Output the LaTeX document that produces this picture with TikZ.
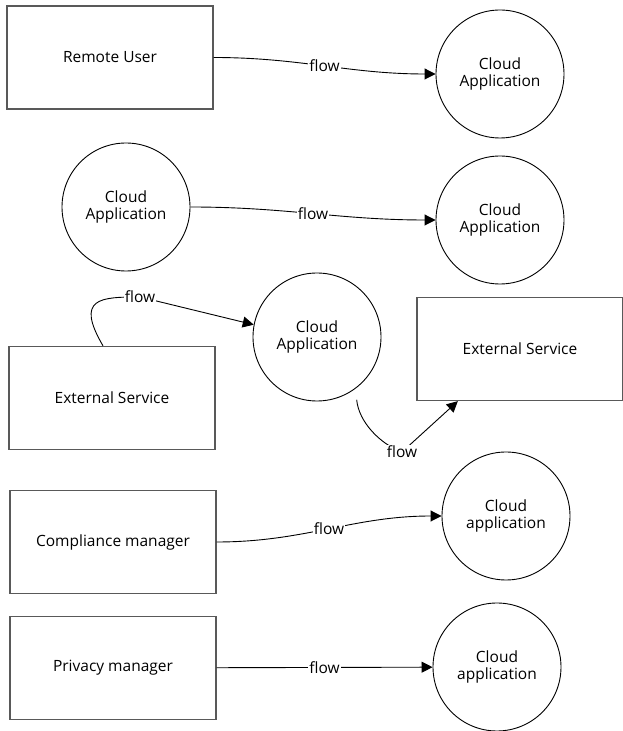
\documentclass[tikz,border=0pt]{standalone}
\usepackage{fontspec}
\setmainfont{Open Sans}
\usetikzlibrary{arrows.meta}

\begin{document}
\begin{tikzpicture}[x=1pt,y=1pt,->,>={Triangle[length=11pt,width=11pt]},line width=0.9pt,
        every node/.style={font=\fontsize{15.5}{17}\selectfont},
        ent/.style={draw=black!65,line width=1.3pt,minimum width=206pt,minimum height=103pt,inner sep=0pt},
        proc/.style={circle,draw,line width=0.9pt,minimum size=128pt,inner sep=0pt,align=center},
        flowlbl/.style={fill=white,inner sep=1pt}]
        \useasboundingbox (0,0) rectangle (622,731);
        % nodes
        \node[ent]  (RU)  at (110,673.5) {Remote User};
        \node[proc] (CA1) at (500,657)   {Cloud\\Application};
        \node[proc] (CA2) at (126,524)   {Cloud\\Application};
        \node[proc] (CA3) at (500,511)   {Cloud\\Application};
        \node[ent]  (ES1) at (112,333)   {External Service};
        \node[proc] (CA4) at (317,394)   {Cloud\\Application};
        \node[ent]  (ES2) at (520,382)   {External Service};
        \node[ent]  (CM)  at (113,189)   {Compliance manager};
        \node[proc] (CA5) at (506,215)   {Cloud\\application};
        \node[ent]  (PM)  at (113,63)    {Privacy manager};
        \node[proc] (CA6) at (497,64)    {Cloud\\application};
        \coordinate (bendA) at (140,434);
        \coordinate (bendB) at (402,279);
        % edges
        \path
            (RU)  edge[out=0,in=180]  node[flowlbl]{flow} (CA1)
            (CA2) edge[out=0,in=180]  node[flowlbl]{flow} (CA3)
            (CM)  edge[out=0,in=180]  node[flowlbl]{flow} (CA5)
            (PM)  edge                node[flowlbl]{flow} (CA6);
        \draw ([xshift=-9pt]ES1.north) .. controls +(-28,48) and +(-40,0) .. (bendA)
            node[flowlbl]{flow} -- (CA4.169);
        \draw ([yshift=-12pt]CA4.-52) .. controls +(2,-22) and +(-22,8) .. (bendB)
            node[flowlbl]{flow} -- (ES2.-140);
\end{tikzpicture}
\end{document}
